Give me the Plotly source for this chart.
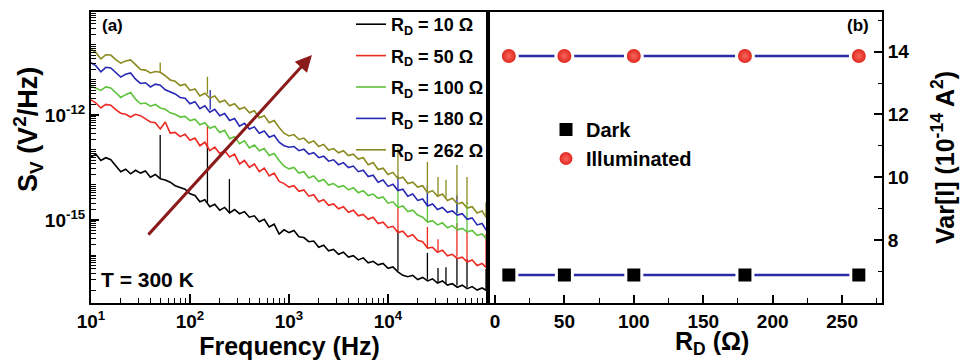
import plotly.graph_objects as go

# ---------------- data: panel (a) ----------------
FREQ_HZ = [10, 11.22, 12.59, 14.13, 15.85, 17.78, 19.95, 22.39, 25.12, 28.18,
           31.62, 35.48, 39.81, 44.67, 50.12, 56.23, 63.10, 70.79, 79.43, 89.13,
           100, 112.2, 125.9, 141.3, 158.5, 177.8, 199.5, 223.9, 251.2, 281.8,
           316.2, 354.8, 398.1, 446.7, 501.2, 562.3, 631.0, 707.9, 794.3, 891.3,
           1000, 1122, 1259, 1413, 1585, 1778, 1995, 2239, 2512, 2818,
           3162, 3548, 3981, 4467, 5012, 5623, 6310, 7079, 7943, 8913,
           10000, 11220, 12589, 14125, 15849, 17783, 19953, 22387, 25119, 28184,
           31623, 35481, 39811, 44668, 50119, 56234, 63096, 70795, 79433, 89125,
           100000]

# log10(S_V)
LOG_SV_R10 = [-13.20, -13.12, -13.30, -13.22, -13.28, -13.45, -13.62, -13.55, -13.68, -13.58,
              -13.66, -13.60, -13.78, -13.70, -13.82, -13.86, -13.92, -14.02, -14.08, -14.12,
              -14.25, -14.30, -14.48, -14.42, -14.62, -14.55, -14.72, -14.64, -14.80, -14.70,
              -14.82, -14.76, -14.92, -14.88, -15.05, -14.98, -15.20, -15.12, -15.40, -15.28,
              -15.36, -15.30, -15.48, -15.50, -15.62, -15.60, -15.78, -15.72, -15.88, -15.84,
              -15.98, -15.92, -16.06, -16.02, -16.14, -16.08, -16.22, -16.18, -16.28, -16.24,
              -16.38, -16.34, -16.48, -16.58, -16.62, -16.58, -16.70, -16.64, -16.74, -16.68,
              -16.80, -16.74, -16.86, -16.82, -16.92, -16.86, -16.96, -16.90, -17.00, -16.94,
              -17.02]
LOG_SV_R50 = [-11.57, -11.66, -11.80, -11.70, -11.72, -11.85, -11.95, -11.98, -12.06, -11.98,
              -12.02, -12.12, -12.20, -12.22, -12.40, -12.20, -12.52, -12.50, -12.62, -12.55,
              -12.72, -12.66, -12.88, -12.78, -13.02, -12.92, -13.10, -13.02, -13.20, -13.12,
              -13.40, -13.30, -13.50, -13.40, -13.62, -13.52, -13.74, -13.66, -13.90, -13.96,
              -14.06, -14.02, -14.18, -14.14, -14.32, -14.28, -14.48, -14.42, -14.58, -14.54,
              -14.68, -14.62, -14.78, -14.72, -14.88, -14.84, -14.98, -14.92, -15.10, -15.06,
              -15.22, -15.18, -15.36, -15.32, -15.48, -15.42, -15.58, -15.62, -15.80, -15.78,
              -15.92, -15.86, -16.02, -15.98, -16.10, -16.06, -16.20, -16.14, -16.30, -16.24,
              -16.38]
LOG_SV_R100 = [-11.17, -11.24, -11.30, -11.20, -11.23, -11.36, -11.50, -11.42, -11.36, -11.55,
               -11.68, -11.66, -11.75, -11.70, -11.80, -11.84, -11.94, -11.98, -12.06, -12.04,
               -12.16, -12.12, -12.28, -12.22, -12.38, -12.32, -12.50, -12.44, -12.68, -12.62,
               -12.82, -12.74, -12.94, -12.86, -13.02, -12.96, -13.16, -13.10, -13.30, -13.46,
               -13.54, -13.50, -13.66, -13.62, -13.80, -13.74, -13.90, -13.84, -14.00, -13.96,
               -14.06, -14.02, -14.14, -14.08, -14.22, -14.16, -14.30, -14.26, -14.38, -14.34,
               -14.52, -14.48, -14.64, -14.60, -14.76, -14.72, -14.86, -14.92, -15.06, -15.02,
               -15.14, -15.08, -15.22, -15.16, -15.28, -15.24, -15.34, -15.30, -15.44, -15.40,
               -15.56]
LOG_SV_R180 = [-10.51, -10.60, -10.77, -10.64, -10.66, -10.80, -10.92, -10.84, -10.80, -10.98,
               -11.10, -11.08, -11.20, -11.12, -11.15, -11.28, -11.35, -11.40, -11.50, -11.52,
               -11.68, -11.62, -11.82, -11.74, -11.92, -11.84, -12.02, -11.96, -12.16, -12.10,
               -12.32, -12.24, -12.40, -12.34, -12.52, -12.46, -12.64, -12.58, -12.78, -12.88,
               -12.92, -12.90, -13.02, -12.98, -13.12, -13.08, -13.22, -13.18, -13.32, -13.28,
               -13.42, -13.36, -13.50, -13.46, -13.62, -13.58, -13.76, -13.72, -13.92, -13.86,
               -14.04, -13.98, -14.16, -14.12, -14.32, -14.26, -14.44, -14.40, -14.60, -14.54,
               -14.70, -14.64, -14.78, -14.74, -14.86, -14.82, -14.98, -14.94, -15.14, -15.10,
               -15.32]
LOG_SV_R262 = [-10.12, -10.22, -10.40, -10.28, -10.29, -10.42, -10.52, -10.46, -10.43, -10.58,
               -10.70, -10.72, -10.80, -10.76, -10.78, -10.88, -11.00, -11.04, -11.16, -11.12,
               -11.30, -11.26, -11.46, -11.38, -11.52, -11.46, -11.64, -11.58, -11.74, -11.68,
               -11.84, -11.78, -11.94, -11.88, -12.08, -12.02, -12.22, -12.16, -12.36, -12.52,
               -12.60, -12.56, -12.70, -12.66, -12.80, -12.74, -12.90, -12.84, -13.00, -12.96,
               -13.08, -13.02, -13.16, -13.12, -13.26, -13.22, -13.42, -13.36, -13.56, -13.52,
               -13.70, -13.64, -13.82, -13.78, -13.96, -13.92, -14.06, -14.02, -14.22, -14.16,
               -14.32, -14.26, -14.44, -14.38, -14.54, -14.50, -14.66, -14.62, -14.80, -14.74,
               -14.96]

# narrow interference spikes: (frequency Hz, log10 base, log10 peak)
SPIKES_R10 = [(50, -13.80, -12.57), (150, -14.50, -12.80), (250, -14.80, -13.83),
              (12600, -16.45, -15.30), (25000, -16.70, -15.94), (32000, -16.78, -16.37),
              (38500, -16.80, -16.35), (49700, -16.86, -16.09), (62800, -16.92, -16.12),
              (97700, -17.00, -16.40)]
SPIKES_R50 = [(150, -12.95, -12.30), (12600, -15.35, -14.60), (25000, -15.80, -15.20),
              (32000, -15.90, -15.55), (49700, -16.05, -15.09), (62800, -16.16, -15.30),
              (97700, -16.32, -15.40)]
SPIKES_R100 = [(12600, -14.64, -14.10), (25000, -15.05, -14.20), (49700, -15.22, -14.50),
               (62800, -15.32, -14.50)]
SPIKES_R180 = [(160, -11.85, -11.29), (12600, -14.16, -13.75), (25000, -14.60, -14.00),
               (49700, -14.80, -14.30)]
SPIKES_R262 = [(50, -10.78, -10.50), (150, -11.40, -10.91), (12600, -13.82, -12.94),
               (25000, -14.20, -13.34), (32000, -14.30, -13.77), (38500, -14.36, -13.85),
               (49700, -14.42, -13.43), (62800, -14.54, -13.77), (97700, -14.90, -14.49)]

SERIES_NAMES = ["R<sub>D</sub> = 10 \u03a9", "R<sub>D</sub> = 50 \u03a9",
                "R<sub>D</sub> = 100 \u03a9", "R<sub>D</sub> = 180 \u03a9",
                "R<sub>D</sub> = 262 \u03a9"]
SERIES_COLORS = ["#000000", "#ec2a22", "#5dc33a", "#2828b4", "#8a8a1e"]

# ---------------- data: panel (b) ----------------
RD_OHM = [10, 50, 100, 180, 262]
VAR_DARK = [6.89, 6.89, 6.89, 6.89, 6.89]
VAR_ILLUM = [13.86, 13.86, 13.86, 13.86, 13.86]

# tick definitions
X_A_TICKS = [10, 100, 1000, 10000]
X_A_TICKTEXT = ["10<sup>1</sup>", "10<sup>2</sup>", "10<sup>3</sup>", "10<sup>4</sup>"]
X_A_MINOR = [m * d for d in (10, 100, 1000, 10000) for m in range(2, 10)]
Y_A_LABEL_EXP = [-15, -12]
Y_A_TICKTEXT = ["10<sup>-15</sup>", "10<sup>-12</sup>"]
Y_A_DECADES = [-17, -16, -15, -14, -13, -12, -11, -10]

FONT = "Liberation Sans, Arial, sans-serif"

fig = go.Figure()

all_logs = [LOG_SV_R10, LOG_SV_R50, LOG_SV_R100, LOG_SV_R180, LOG_SV_R262]
all_spikes = [SPIKES_R10, SPIKES_R50, SPIKES_R100, SPIKES_R180, SPIKES_R262]
for i, (name, color, logs, spikes) in enumerate(zip(SERIES_NAMES, SERIES_COLORS, all_logs, all_spikes)):
    fig.add_trace(go.Scatter(
        x=FREQ_HZ, y=[10 ** v for v in logs], mode="lines", name=name,
        legendgroup="g%d" % i,
        line=dict(color=color, width=1.6), xaxis="x", yaxis="y", legend="legend"))
    sx, sy = [], []
    for f, b, p in spikes:
        sx += [f, f, None]
        sy += [10 ** b, 10 ** p, None]
    fig.add_trace(go.Scatter(
        x=sx, y=sy, mode="lines", showlegend=False, legendgroup="g%d" % i,
        line=dict(color=color, width=1.3), xaxis="x", yaxis="y"))

# panel b
LINE_BLUE = "#2b2ba6"
for yv in (VAR_ILLUM, VAR_DARK):
    fig.add_trace(go.Scatter(x=RD_OHM, y=yv, mode="lines", showlegend=False,
                             line=dict(color=LINE_BLUE, width=2.6),
                             xaxis="x2", yaxis="y2"))
fig.add_trace(go.Scatter(
    x=RD_OHM, y=VAR_DARK, mode="markers", name="Dark",
    marker=dict(symbol="square", size=16, color="black",
                line=dict(color="white", width=3)),
    xaxis="x2", yaxis="y2", legend="legend2"))
fig.add_trace(go.Scatter(
    x=RD_OHM, y=VAR_ILLUM, mode="markers", name="Illuminated",
    marker=dict(symbol="circle", size=17, color="#dc1a12",
                gradient=dict(type="radial", color="#f7665c"),
                line=dict(color="white", width=3)),
    xaxis="x2", yaxis="y2", legend="legend2"))

W, H = 966, 363
xa_dom = [91 / W, 488 / W]
xb_dom = [488 / W, 882 / W]
y_dom = [1 - 303 / H, 1 - 12 / H]

tickfont = dict(family=FONT, size=19, color="black", weight="bold")
titlefont = dict(family=FONT, size=25, color="black", weight="bold")

common = dict(showline=True, linecolor="black", linewidth=2, mirror=True,
              showgrid=False, zeroline=False, tickfont=tickfont, automargin=False,
              tickcolor="black")

y_minor = [m * 10.0 ** d for d in Y_A_DECADES for m in range(1, 10)
           if not (m == 1 and d in Y_A_LABEL_EXP)]

fig.update_layout(
    width=W, height=H, margin=dict(l=0, r=0, t=0, b=0, autoexpand=False),
    paper_bgcolor="white", plot_bgcolor="white",
    font=dict(family=FONT, color="black"),
    xaxis=dict(domain=xa_dom, anchor="y", type="log", range=[1, 5.01],
               tickmode="array", tickvals=X_A_TICKS, ticktext=X_A_TICKTEXT,
               ticks="inside", ticklen=9, tickwidth=1.5,
               minor=dict(tickmode="array", tickvals=X_A_MINOR, ticks="inside",
                          ticklen=5, tickwidth=1.2, tickcolor="black", showgrid=False),
               title=dict(text="Frequency (Hz)", font=titlefont, standoff=4), **common),
    yaxis=dict(domain=y_dom, anchor="x", type="log", range=[-17.37, -9.06],
               tickmode="array", tickvals=[10.0 ** d for d in Y_A_LABEL_EXP],
               ticktext=Y_A_TICKTEXT,
               ticks="inside", ticklen=8, tickwidth=1.5,
               minor=dict(tickmode="array", tickvals=y_minor,
                          ticks="inside", ticklen=5, tickwidth=1.2, tickcolor="black",
                          showgrid=False),
               **common),
    xaxis2=dict(domain=xb_dom, anchor="y2", range=[-5, 278.7],
                tickmode="array", tickvals=[0, 50, 100, 150, 200, 250],
                ticks="inside", ticklen=8, tickwidth=1.5,
                minor=dict(tickmode="array", tickvals=[25, 75, 125, 175, 225, 275],
                           ticks="inside", ticklen=5, tickwidth=1.2, tickcolor="black",
                           showgrid=False),
                **common),
    yaxis2=dict(domain=y_dom, anchor="x2", side="right", range=[6.0, 15.26],
                tickmode="array", tickvals=[8, 10, 12, 14],
                ticks="inside", ticklen=8, tickwidth=1.5,
                minor=dict(tickmode="array", tickvals=[7, 9, 11, 13, 15],
                           ticks="inside", ticklen=4, tickwidth=1.2, tickcolor="black",
                           showgrid=False),
                title=dict(text="Var[I] (10<sup>-14</sup> A<sup>2</sup>)", font=titlefont,
                           standoff=28), **common),
    legend=dict(x=351 / W, y=1 - 6 / H, xanchor="left", yanchor="top",
                bgcolor="rgba(0,0,0,0)", borderwidth=0,
                font=dict(family=FONT, size=18, color="black", weight="bold"),
                tracegroupgap=5, itemwidth=30),
    legend2=dict(x=546 / W, y=1 - 110 / H, xanchor="left", yanchor="top",
                 bgcolor="rgba(0,0,0,0)", borderwidth=0,
                 font=dict(family=FONT, size=20, color="black", weight="bold")),
    annotations=[
        dict(text="S<sub>V</sub> (V<sup>2</sup>/Hz)", x=28 / W, y=1 - 130 / H,
             xref="paper", yref="paper", textangle=-90,
             xanchor="center", yanchor="middle", showarrow=False,
             font=dict(family=FONT, size=27, color="black", weight="bold")),
        dict(text="R<sub>D</sub> (\u03a9)", x=712 / W, y=1 - 343 / H,
             xref="paper", yref="paper",
             xanchor="center", yanchor="middle", showarrow=False, font=titlefont),
        dict(text="(a)", x=100 / W, y=1 - 25 / H, xref="paper", yref="paper",
             xanchor="left", yanchor="middle", showarrow=False,
             font=dict(family=FONT, size=17, color="black", weight="bold")),
        dict(text="(b)", x=871 / W, y=1 - 25 / H, xref="paper", yref="paper",
             xanchor="right", yanchor="middle", showarrow=False,
             font=dict(family=FONT, size=17, color="black", weight="bold")),
        dict(text="T = 300 K", x=99 / W, y=1 - 279 / H, xref="paper", yref="paper",
             xanchor="left", yanchor="middle", showarrow=False,
             font=dict(family=FONT, size=21, color="black", weight="bold")),
        dict(text="", x=3.232, y=-10.29, xref="x", yref="y",
             ax=1.566, ay=-15.46, axref="x", ayref="y",
             showarrow=True, arrowhead=2, arrowsize=1.1, arrowwidth=3,
             arrowcolor="#8b1a1a"),
    ],
)

fig.write_html("out.html")
